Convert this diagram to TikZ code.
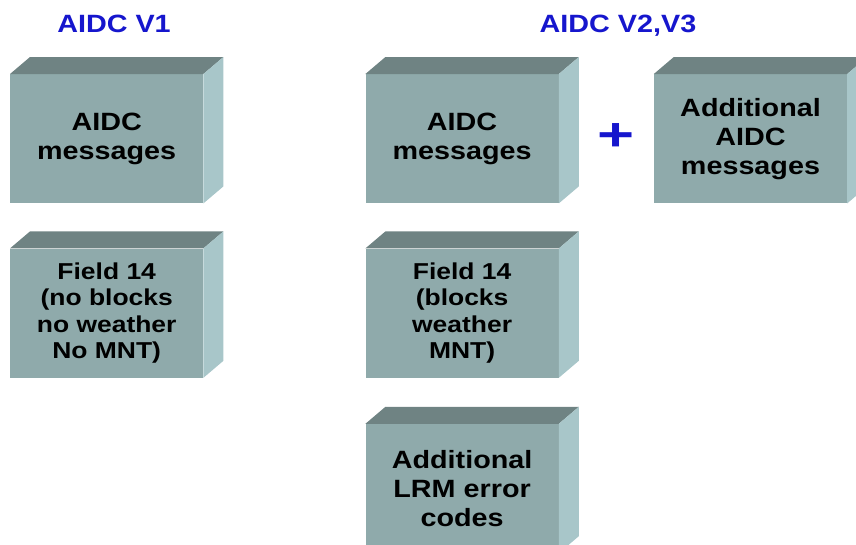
\documentclass[tikz,border=0pt]{standalone}
\usepackage{fontspec}
\setmainfont{Liberation Sans}[FakeStretch=1.15]
\usepackage{tikz}
\usetikzlibrary{positioning}
\definecolor{frontcol}{RGB}{143,170,171}
\definecolor{topcol}{RGB}{111,131,131}
\definecolor{sidecol}{RGB}{168,198,201}
\definecolor{titleblue}{RGB}{22,22,205}
\newcommand{\Faces}[1]{%
  \fill[topcol] (#1.north west) -- ++(20,-17) -- ([shift={(20,-17)}]#1.north east) -- (#1.north east) -- cycle;
  \fill[sidecol] (#1.north east) -- ++(20,-17) -- ([shift={(20,-17)}]#1.south east) -- (#1.south east) -- cycle;}

\begin{document}
\begin{tikzpicture}[
      x=1pt, y=-1pt,
      node distance=45pt and 162pt,
      block/.style={fill=frontcol, minimum width=193pt, minimum height=129pt, inner sep=0pt,
        align=center, font=\fontsize{25}{29}\selectfont\bfseries},
      fieldblock/.style={block, font=\fontsize{23}{26.5}\selectfont\bfseries},
      heading/.style={anchor=base, text=titleblue, font=\fontsize{25}{30}\selectfont\bfseries},
    ]
    \useasboundingbox (0,0) rectangle (856,544);
    \begin{scope}
    \clip (0,0) rectangle (856,544);
    \node[block, anchor=north west] (v1msg) at (10,74) {AIDC\\messages};
    \node[fieldblock, below=of v1msg] (v1fld) {Field 14\\(no blocks\\no weather\\No MNT)};
    \node[block, right=of v1msg] (msg) {AIDC\\messages};
    \node[fieldblock, below=of msg] (fld) {Field 14\\(blocks\\weather\\MNT)};
    \node[block, below=46pt of fld] (lrm) {Additional\\LRM error\\codes};
    \node[block, right=95pt of msg] (addmsg) {Additional\\AIDC\\messages};
    \Faces{v1msg}
    \Faces{v1fld}
    \Faces{msg}
    \Faces{fld}
    \Faces{lrm}
    \Faces{addmsg}
    \end{scope}
    \node[heading] (v1) at (114,32) {AIDC V1};
    \node[heading] (v23) at (618,32) {AIDC V2,V3};
    \node[text=titleblue, font=\fontsize{46}{46}\selectfont\bfseries] (plus) at (616,137) {\scalebox{1.2}[1]{+}};
  \end{tikzpicture}
\end{document}
